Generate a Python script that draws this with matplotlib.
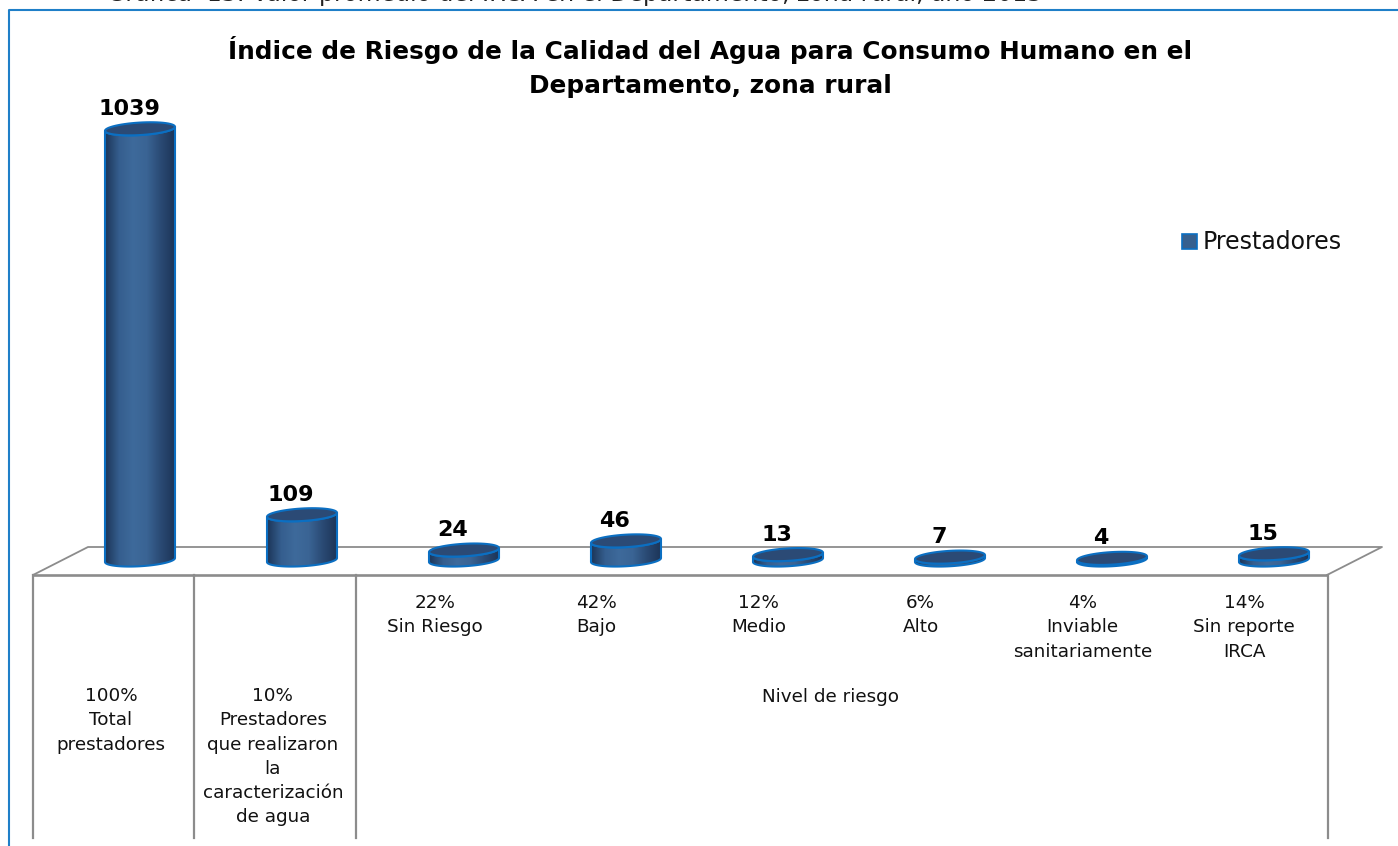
"""Indice de riesgo del agua, zona rural: cilindros a mano sobre un piso en perspectiva"""

import numpy as np
from matplotlib import pyplot as plt
from matplotlib.colors import LinearSegmentedColormap
from matplotlib.patches import Polygon

categories = ["100%\nTotal\nprestadores",
              "10%\nPrestadores\nque realizaron\nla\ncaracterización\nde agua",
              "22%\nSin Riesgo", "42%\nBajo", "12%\nMedio", "6%\nAlto",
              "4%\nInviable\nsanitariamente", "14%\nSin reporte\nIRCA"]
values = [1039, 109, 24, 46, 13, 7, 4, 15]
group_label = "Nivel de riesgo"
series_name = "Prestadores"
title = "Índice de Riesgo de la Calidad del Agua para Consumo Humano en el\nDepartamento, zona rural"
caption = "Gráfica  13: Valor promedio del IRCA en el Departamento, zona rural, año 2013"

W, H = 1398, 846
OUTLINE = "#0b6fc2"
TOP = "#2b4a75"
GREY = "#8c8c8c"
PX_PER_UNIT = 0.415
SLOT = 162
BAR_W = 70
ELL_H = 12.5
TILT = 2
BASE_Y = 560
FIRST_X = 140

plt.rcParams["font.family"] = ["DejaVu Sans"]
side_cmap = LinearSegmentedColormap.from_list(
    "side", ["#1c3558", "#355e8e", "#3e6a9b", "#3a6494", "#2a4a74", "#1c3558"])


def rim(x, v, start, stop):
    """Points of a slightly tilted ellipse around (x, v), in value coordinates"""
    t = np.linspace(start, stop, 60)
    hw = BAR_W / 2 / SLOT
    px_y = ELL_H / 2 * np.sin(t) + TILT * np.cos(t)
    return np.column_stack([x + hw * np.cos(t), v + px_y / PX_PER_UNIT])


fig = plt.figure(figsize=(W / 100, H / 100), dpi=100)

# pixel axes for the frame, the floor and the texts
deco = fig.add_axes([0, 0, 1, 1])
deco.set_xlim(0, W)
deco.set_ylim(H, 0)
deco.axis("off")

# value axes, placed so category i falls on FIRST_X + SLOT * i
ax = fig.add_axes([0, 0, 1, 1], zorder=3)
ax.axis("off")
ax.patch.set_alpha(0)

# frame, only left and top are visible in the crop
deco.plot([9, 9, W], [H, 10, 10], color="#1f7fc8", lw=1.5)

# floor
deco.plot([33, 88, 1382, 1327], [575, 547, 547, 575], color=GREY, lw=1.3)
deco.plot([33, 1327], [575, 575], color=GREY, lw=1.9)
for k in (0, 1, 2, 8):
    x = 32.5 + 161.9 * k
    deco.plot([x, x], [575, H - 8], color=GREY, lw=1.6)

for i, v in enumerate(values):
    # side of the cylinder: front half of the top rim is hidden by the lid
    lower = rim(i, 0, np.pi, 2 * np.pi)
    upper = rim(i, v, 2 * np.pi, np.pi)
    body = Polygon(np.vstack([lower, upper]), closed=True, facecolor="none",
                   edgecolor=OUTLINE, lw=1.5, zorder=3)
    ax.add_patch(body)
    hw = BAR_W / 2 / SLOT
    img = ax.imshow(np.linspace(0, 1, 128).reshape(1, -1), cmap=side_cmap, aspect="auto",
                    extent=(i - hw, i + hw, -ELL_H / PX_PER_UNIT, v + ELL_H / PX_PER_UNIT), zorder=2)
    img.set_clip_path(body)
    ax.add_patch(Polygon(rim(i, v, 0, 2 * np.pi), closed=True, facecolor=TOP,
                         edgecolor=OUTLINE, lw=1.5, zorder=4))
    ax.annotate(str(v), (i, v), xytext=(-11, 20), textcoords="offset pixels",
                ha="center", va="center", fontsize=16, fontweight="bold", zorder=5)

ax.set_xlim(-FIRST_X / SLOT, (W - FIRST_X) / SLOT)
ax.set_ylim(-(H - BASE_Y) / PX_PER_UNIT, BASE_Y / PX_PER_UNIT)

# category labels, the first two start lower down than the risk levels
for k, label in enumerate(categories):
    x = 111 + 161.9 * k
    y = 687 if k < 2 else 594
    deco.text(x, y, label, ha="center", va="top", fontsize=13.2, linespacing=1.45, color="#111111")
deco.text(830, 697, group_label, ha="center", va="center", fontsize=13.2, color="#111111")

deco.text(710, 67, title, ha="center", va="center", fontsize=17.8, fontweight="bold", linespacing=1.55)
deco.text(575, 1.5, caption, ha="center", va="baseline", fontsize=17, color="#222222")

# legend
deco.add_patch(plt.Rectangle((1182, 234), 15, 15, facecolor="#36608f", edgecolor=OUTLINE, lw=1.2))
deco.text(1203, 242, series_name, ha="left", va="center", fontsize=17, color="#111111")

fig.savefig("out.png", dpi=100)
